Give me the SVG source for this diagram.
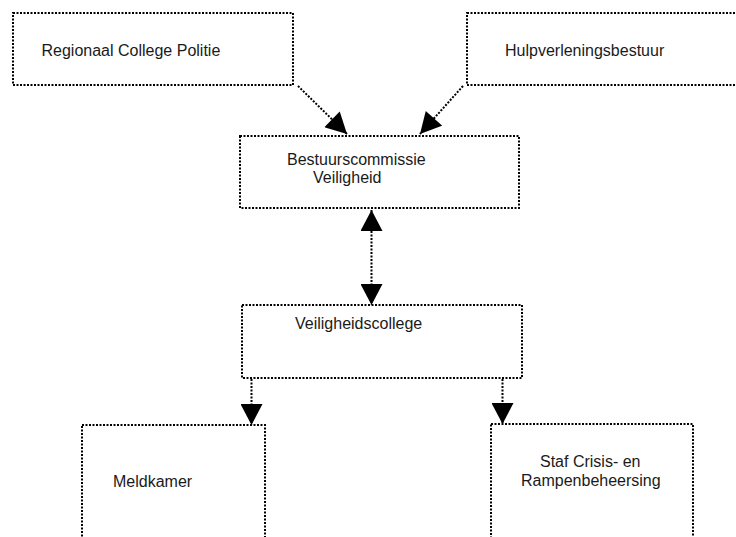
<svg xmlns="http://www.w3.org/2000/svg" width="736" height="537" viewBox="0 0 736 537">
<style>
.box{fill:none;stroke:#000;stroke-width:2;stroke-dasharray:2 1.5}
.con{fill:none;stroke:#000;stroke-width:2;stroke-dasharray:2 1.5}
text{font-family:"Liberation Sans",Arial,sans-serif;font-size:16px;fill:#1a1a1a}
</style>
<defs>
<marker id="ah" markerUnits="userSpaceOnUse" markerWidth="22" markerHeight="22" refX="20" refY="10.5" orient="auto" viewBox="0 0 20 21">
<path d="M0,0 L20,10.5 L0,21 z" fill="#000"/>
</marker>
<marker id="ahs" markerUnits="userSpaceOnUse" markerWidth="22" markerHeight="22" refX="0" refY="10.5" orient="auto" viewBox="0 0 20 21">
<path d="M20,0 L0,10.5 L20,21 z" fill="#000"/>
</marker>
</defs>
<rect width="736" height="537" fill="#fff"/>
<g id="regionaal-college-politie">
<rect class="box" x="13" y="13" width="280" height="72"/>
<text x="41.5" y="56">Regionaal College Politie</text>
</g>
<g id="hulpverleningsbestuur">
<rect class="box" x="467" y="13" width="280" height="72"/>
<text x="505" y="56">Hulpverleningsbestuur</text>
</g>
<g id="bestuurscommissie-veiligheid">
<rect class="box" x="240" y="136" width="279" height="72"/>
<text x="287" y="165">Bestuurscommissie</text>
<text x="313" y="183">Veiligheid</text>
</g>
<g id="veiligheidscollege">
<rect class="box" x="242" y="305" width="280" height="73"/>
<text x="295" y="329">Veiligheidscollege</text>
</g>
<g id="meldkamer">
<rect class="box" x="82" y="425" width="183" height="130"/>
<text x="113" y="487">Meldkamer</text>
</g>
<g id="staf-crisis">
<rect class="box" x="491" y="424" width="202" height="130"/>
<text x="540" y="467">Staf Crisis- en</text>
<text x="521" y="486">Rampenbeheersing</text>
</g>
<g id="connectors">
<line class="con" x1="298" y1="86" x2="347" y2="134" marker-end="url(#ah)"/>
<line class="con" x1="463" y1="86" x2="420" y2="134" marker-end="url(#ah)"/>
<line class="con" x1="371.5" y1="210" x2="371.5" y2="305" marker-start="url(#ahs)" marker-end="url(#ah)"/>
<line class="con" x1="251.5" y1="379" x2="251.5" y2="425" marker-end="url(#ah)"/>
<line class="con" x1="502.5" y1="379" x2="502.5" y2="424" marker-end="url(#ah)"/>
</g>
</svg>
